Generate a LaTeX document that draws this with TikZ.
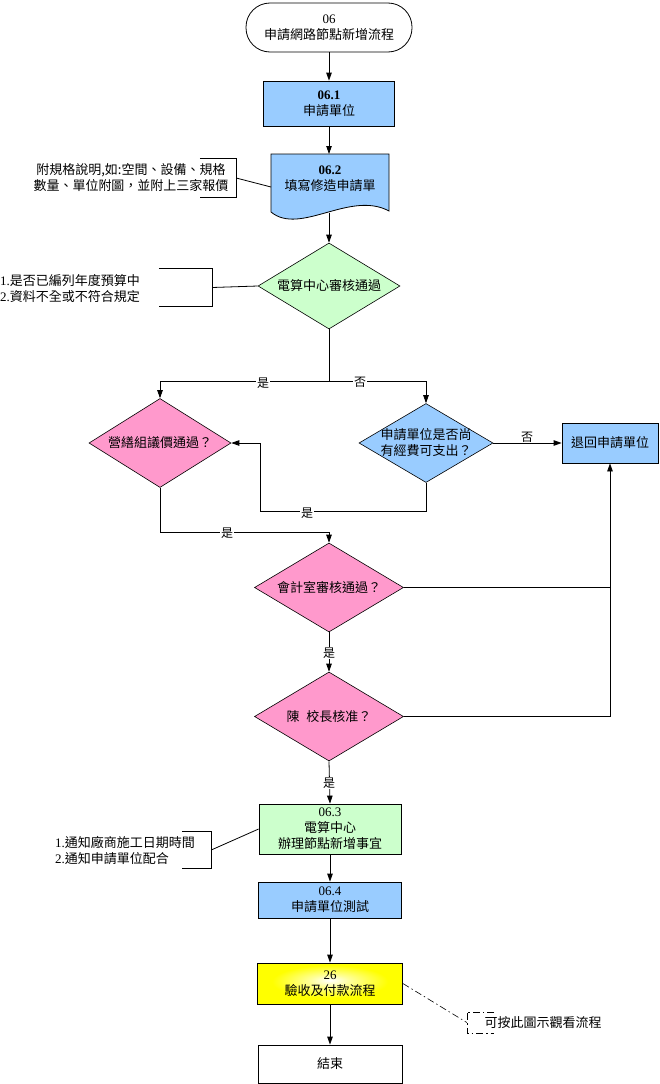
\documentclass[tikz,border=0pt]{standalone}
\usepackage{fontspec}
\setmainfont{Liberation Serif}
\newfontfamily\cjk{Noto Sans CJK TC}
\usetikzlibrary{arrows.meta,shapes.geometric}
\definecolor{cblue}{HTML}{99CCFF}
\definecolor{cgreen}{HTML}{CCFFCC}
\definecolor{cpink}{HTML}{FF99CC}
\pgfdeclareradialshading{glow}{\pgfpoint{0bp}{4bp}}{color(0bp)=(white); color(7bp)=(yellow!40!white); color(20bp)=(yellow); color(50bp)=(yellow)}
\newcommand{\num}[1]{{\rmfamily #1}}
\tikzset{
  every node/.style={font=\cjk\fontsize{13}{16}\selectfont, inner sep=0pt},
  box/.style={draw, line width=0.8pt, align=center},
  dia/.style={draw, diamond, line width=0.6pt, inner sep=0pt},
  lab/.style={fill=white, inner sep=1pt, font=\cjk\fontsize{12}{14}\selectfont},
  arr/.style={-{Triangle[length=8pt,width=5.5pt]}, line width=0.8pt},
  ln/.style={line width=0.8pt},
  dashdot/.style={line width=0.6pt, dash pattern=on 7pt off 3pt on 1.5pt off 3pt},
}
\begin{document}
\begin{tikzpicture}[x=1pt,y=-1pt]
\useasboundingbox (0,0) rectangle (660,1084);

% start
\node[box, rounded corners=24pt, minimum width=166pt, minimum height=49pt] (start) at (329,27.5) {\num{06}\\申請網路節點新增流程};
% 06.1
\node[box, fill=cblue, minimum width=131pt, minimum height=45pt] (s1) at (329,103.5) {\num{\bfseries 06.1}\\申請單位};
% 06.2 document shape
\filldraw[fill=cblue, line width=0.8pt] (271,154) -- (389,154) -- (389,211) .. controls (350,190) and (300,236) .. (271,212) -- cycle;
\node[align=center] (d2) at (330,179) {\num{\bfseries 06.2}\\填寫修造申請單};
\coordinate (d2b) at (329,213);
\coordinate (d2w) at (271,187);

% annotation 1
\node[align=center] (n1) at (131,178) {附規格說明,如:空間、設備、規格\\數量、單位附圖，並附上三家報價};
\node[minimum width=36pt, minimum height=38pt] (b1) at (218,178) {};
\draw[ln] (b1.north west) -- (b1.north east) -- (b1.south east) -- (b1.south west);
\draw[ln] (b1.east) -- (d2w);

% decision 1
\node[dia, fill=cgreen, minimum width=142pt, minimum height=86pt] (c1) at (329,286) {};
\node at (c1) {電算中心審核通過};

% annotation 2
\node[align=left, anchor=west] (n2) at (0,289) {\num{1.}是否已編列年度預算中\\\num{2.}資料不全或不符合規定};
\node[minimum width=53pt, minimum height=37pt] (b2) at (185.5,287.5) {};
\draw[ln] (b2.north west) -- (b2.north east) -- (b2.south east) -- (b2.south west);
\draw[ln] (b2.east) -- (c1.west);

% decision 2 and 3
\node[dia, fill=cpink, minimum width=142pt, minimum height=89pt] (c2) at (160,443) {};
\node at (c2) {營繕組議價通過？};
\node[dia, fill=cblue, minimum width=134pt, minimum height=79pt] (c3) at (426,443) {};
\node[align=center] at (c3) {申請單位是否尚\\有經費可支出？};

% return box
\node[box, fill=cblue, minimum width=96pt, minimum height=40pt] (back) at (610,443) {退回申請單位};

% decision 4, 5
\node[dia, fill=cpink, minimum width=149pt, minimum height=89pt] (c4) at (329,587.5) {};
\node at (c4) {會計室審核通過？};
\node[dia, fill=cpink, minimum width=149pt, minimum height=89pt] (c5) at (329,716.5) {};
\node at (c5) {陳\hspace{7pt}校長核准？};

% 06.3
\node[box, fill=cgreen, minimum width=142pt, minimum height=50pt] (s3) at (330,829) {\num{06.3}\\電算中心\\辦理節點新增事宜};
% annotation 3
\node[align=left, anchor=west] (n3) at (55,851) {\num{1.}通知廠商施工日期時間\\\num{2.}通知申請單位配合};
\node[minimum width=29pt, minimum height=36pt] (b3) at (196.5,850) {};
\draw[ln] (b3.north west) -- (b3.north east) -- (b3.south east) -- (b3.south west);
\draw[ln] (b3.east) -- (s3.west);

% 06.4
\node[box, fill=cblue, minimum width=143pt, minimum height=36pt] (s4) at (330,900) {\num{06.4}\\申請單位測試};
% 26
\node[box, shading=glow, minimum width=145pt, minimum height=41pt] (s26) at (330,983.5) {\num{26}\\驗收及付款流程};
% end
\node[box, minimum width=144pt, minimum height=38pt] (end) at (330,1064) {結束};

% annotation 4
\node (n4) at (543,1023) {可按此圖示觀看流程};
\node[minimum width=27pt, minimum height=21pt] (b4) at (480.5,1022.5) {};
\draw[dashdot] (b4.north east) -- (b4.north west) -- (b4.south west) -- (b4.south east);
\draw[dashdot] (s26.east) -- (b4.west);

% connectors
\draw[arr] (start.south) -- (s1.north);
\draw[arr] (s1.south) -- (s1.south |- 0,154);
\draw[arr] (d2b) -- (c1.north);

\coordinate (split) at (329,381.5);
\draw[ln] (c1.south) -- (split);
\draw[arr] (split) -| (c2.north);
\draw[arr] (split) -| (c3.north);
\node[lab] at (263,383) {是};
\node[lab] at (360,382) {否};

\draw[arr] (c3.east) -- (back.west);
\node[lab, fill=none] at (527,437) {否};

\coordinate (loopA) at (260,511.5);
\draw[arr] (c3.south) |- (loopA) |- (c2.east);
\node[lab] at (307,513) {是};

\coordinate (join) at (329,532);
\draw[arr] (c2.south) |- (join) -- (c4.north);
\node[lab] at (227,533) {是};

\draw[arr] (c4.south) -- (c5.north);
\node[lab] at (329,653) {是};

\draw[ln] (c4.east) -- (c4.east -| back.south);
\draw[arr] (c5.east) -| (back.south);

\draw[arr] (c5.south) -- (s3.north);
\node[lab] at (329,783) {是};

\draw[arr] (s3.south) -- (s4.north);
\draw[arr] (s4.south) -- (s26.north);
\draw[arr] (s26.south) -- (end.north);
\end{tikzpicture}
\end{document}
